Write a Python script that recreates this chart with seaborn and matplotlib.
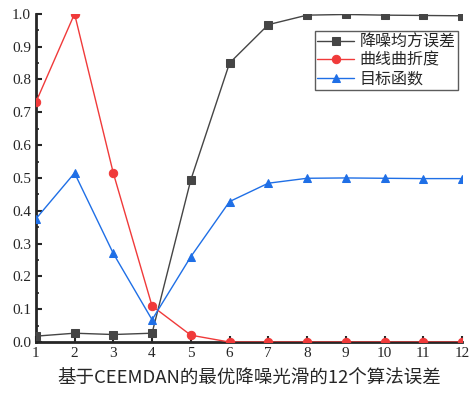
import matplotlib
matplotlib.use("Agg")
import matplotlib.pyplot as plt
import seaborn as sns
import pandas as pd
from matplotlib.ticker import MultipleLocator

# Twelve smoothing algorithms and their normalised metrics
algorithms = list(range(1, 13))
denoise_mse = [0.018, 0.027, 0.023, 0.027, 0.494, 0.850, 0.967, 0.996, 0.998, 0.996, 0.995, 0.994]
curve_tortuosity = [0.730, 1.000, 0.515, 0.110, 0.021, 0.0, 0.0, 0.0, 0.0, 0.0, 0.0, 0.0]
objective = [0.375, 0.515, 0.270, 0.068, 0.260, 0.428, 0.484, 0.499, 0.500, 0.499, 0.498, 0.498]

series_names = ["降噪均方误差", "曲线曲折度", "目标函数"]
colors = ["#454545", "#f03a3a", "#1f6fe6"]
markers = ["s", "o", "^"]

df = pd.DataFrame({
    "algo": algorithms * 3,
    "value": denoise_mse + curve_tortuosity + objective,
    "series": sum([[n] * len(algorithms) for n in series_names], []),
})

sns.set_style("ticks")
plt.rcParams["font.family"] = ["Noto Sans CJK SC", "DejaVu Sans"]

fig = plt.figure(figsize=(4.71, 3.95), dpi=100)
ax = fig.add_axes([0.076, 0.134, 0.905, 0.831])

for name, c, m in zip(series_names, colors, markers):
    sub = df[df["series"] == name]
    sns.lineplot(data=sub, x="algo", y="value", ax=ax, color=c, marker=m,
                 markersize=6, markeredgecolor=c, linewidth=1.0, label=name,
                 zorder=3)

ax.set_xlim(1, 12)
ax.set_ylim(0, 1.0)
ax.set_xticks(algorithms)
ax.yaxis.set_major_locator(MultipleLocator(0.1))
ax.yaxis.set_minor_locator(MultipleLocator(0.05))
ax.set_yticklabels([f"{v:.1f}" for v in ax.get_yticks()])
for lab in ax.get_xticklabels() + ax.get_yticklabels():
    lab.set_fontfamily("Liberation Serif")
    lab.set_fontsize(11)
ax.tick_params(axis="both", which="major", direction="in", length=4, width=1.5)
ax.tick_params(axis="y", which="minor", direction="in", length=2.5, width=1.2)
ax.spines["top"].set_visible(False)
ax.spines["right"].set_visible(False)
ax.spines["left"].set_linewidth(2)
ax.spines["bottom"].set_linewidth(2)
ax.set_ylabel("")
ax.set_xlabel("基于CEEMDAN的最优降噪光滑的12个算法误差", fontsize=13.3, labelpad=7)

leg = ax.legend(loc="upper right", bbox_to_anchor=(0.998, 0.958), frameon=True,
                fancybox=False, fontsize=11.5, handlelength=2.3, borderpad=0.15,
                labelspacing=0.1, handletextpad=0.35, borderaxespad=0.2)
leg.get_frame().set_edgecolor("#333333")
leg.get_frame().set_linewidth(1.0)

fig.savefig("out.png", dpi=100)
